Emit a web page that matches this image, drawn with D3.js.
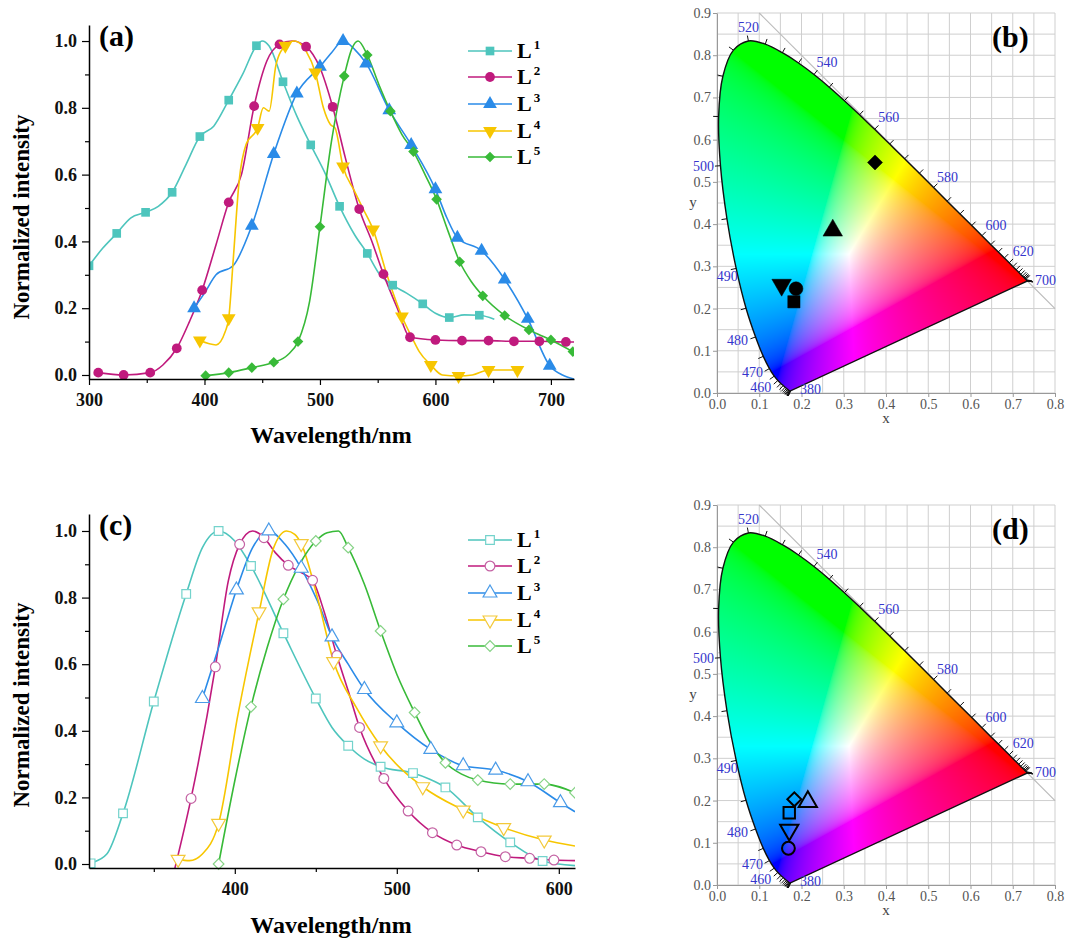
<!DOCTYPE html>
<html>
<head>
<meta charset="utf-8">
<script src="https://cdn.jsdelivr.net/npm/d3@7"></script>
<style>
body { margin: 0; background: #fff; }
text { font-family: "Liberation Serif", "Times New Roman", serif; }
</style>
</head>
<body>
<script>
// ---- data: [wavelength, intensity, marker?] ----
var names = ["1", "2", "3", "4", "5"];
var colors = ["#4ec5bd", "#c01a7d", "#2a8be8", "#f7c600", "#38ba38"];
var openColors = ["#74d3cc", "#c463a4", "#4a9be8", "#f3c93a", "#86d386"];

var aL1 = [[300,0.327,1],[312,0.38,0],[324,0.424,1],[336,0.47,0],[349,0.487,1],[360,0.505,0],[372,0.547,1],[384,0.63,0],[396,0.714,1],[408,0.745,0],[421,0.823,1],[433,0.9,0],[445,0.986,1],[450,1.0,0],[456,0.985,0],[468,0.878,1],[480,0.775,0],[492,0.689,1],[505,0.6,0],[517,0.505,1],[530,0.42,0],[541,0.364,1],[552,0.3,0],[563,0.269,1],[575,0.245,0],[589,0.213,1],[600,0.185,0],[612,0.172,1],[625,0.18,0],[638,0.179,1],[651,0.167,0]];
var aL2 = [[308,0.007,1],[330,0.0,1],[353,0.007,1],[364,0.03,0],[376,0.08,1],[387,0.16,0],[398,0.254,1],[410,0.39,0],[421,0.517,1],[432,0.6,0],[443,0.805,1],[454,0.94,0],[465,0.99,1],[476,1.0,0],[488,0.983,1],[500,0.92,0],[511,0.803,1],[522,0.65,0],[534,0.497,1],[545,0.4,0],[555,0.302,1],[567,0.2,0],[578,0.113,1],[600,0.105,1],[623,0.103,1],[646,0.103,1],[668,0.101,1],[690,0.101,1],[713,0.099,1],[720,0.099,0]];
var aL3 = [[391,0.2,1],[400,0.245,0],[410,0.3,0],[425,0.328,0],[441,0.447,1],[460,0.662,1],[480,0.843,1],[500,0.923,1],[510,0.965,0],[520,1.0,1],[530,0.975,0],[540,0.933,1],[560,0.793,1],[579,0.689,1],[600,0.556,1],[610,0.47,0],[619,0.411,1],[640,0.372,1],[660,0.286,1],[680,0.168,1],[699,0.028,1],[710,0.0,0],[720,-0.012,0]];
var aL4 = [[396,0.103,1],[410,0.09,0],[418,0.13,0],[421,0.17,1],[425,0.35,0],[430,0.58,0],[436,0.69,0],[446,0.74,1],[451,0.8,0],[456,0.79,0],[462,0.93,0],[470,0.986,1],[478,1.0,0],[488,0.97,0],[496,0.906,1],[503,0.8,0],[509,0.75,0],[513,0.74,0],[520,0.624,1],[530,0.55,0],[537,0.5,0],[546,0.436,1],[558,0.3,0],[571,0.175,1],[580,0.11,0],[586,0.07,0],[596,0.03,1],[606,0.0,0],[620,-0.003,1],[632,0.0,0],[646,0.015,1],[660,0.015,0],[671,0.015,1]];
var aL5 = [[401,-0.002,1],[421,0.007,1],[441,0.022,1],[460,0.038,1],[472,0.06,0],[481,0.1,1],[491,0.22,0],[500,0.444,1],[510,0.7,0],[521,0.895,1],[528,0.98,0],[533,1.0,0],[541,0.958,1],[551,0.87,0],[561,0.79,1],[571,0.72,0],[581,0.669,1],[591,0.6,0],[601,0.526,1],[611,0.43,0],[621,0.339,1],[631,0.28,0],[641,0.237,1],[660,0.178,1],[681,0.135,1],[700,0.105,1],[719,0.07,1]];

var cL1 = [[310,0.0,0],[311,0.002,1],[321,0.03,0],[331,0.152,1],[350,0.488,1],[370,0.811,1],[380,0.95,0],[390,1.0,1],[400,0.97,0],[410,0.895,1],[430,0.693,1],[450,0.497,1],[460,0.41,0],[470,0.355,1],[480,0.315,0],[490,0.292,1],[510,0.273,1],[520,0.255,0],[530,0.23,1],[550,0.14,1],[570,0.065,1],[590,0.009,1],[610,-0.005,0]];
var cL2 = [[363,-0.013,0],[373,0.197,1],[388,0.592,1],[396,0.85,0],[403,0.96,1],[411,1.0,0],[418,0.98,1],[425,0.935,0],[433,0.897,1],[441,0.875,0],[448,0.852,1],[455,0.76,0],[463,0.626,1],[470,0.52,0],[477,0.41,1],[492,0.257,1],[507,0.159,1],[522,0.094,1],[537,0.057,1],[552,0.037,1],[567,0.022,1],[582,0.017,1],[597,0.012,1],[610,0.01,0]];
var cL3 = [[380,0.497,1],[390,0.65,0],[401,0.823,1],[411,0.95,0],[421,1.0,1],[431,0.96,0],[441,0.888,1],[451,0.79,0],[460,0.682,1],[470,0.6,0],[480,0.524,1],[500,0.424,1],[521,0.344,1],[541,0.295,1],[561,0.282,1],[581,0.247,1],[601,0.184,1],[610,0.157,0]];
var cL4 = [[365,0.014,1],[372,0.01,0],[380,0.03,0],[390,0.122,1],[402,0.45,0],[415,0.757,1],[424,0.95,0],[432,1.0,0],[437,0.99,0],[441,0.962,1],[451,0.8,0],[461,0.608,1],[475,0.47,0],[490,0.355,1],[516,0.232,1],[541,0.162,1],[566,0.109,1],[591,0.072,1],[610,0.054,0]];
var cL5 = [[390,0.0,1],[400,0.25,0],[410,0.472,1],[420,0.65,0],[430,0.795,1],[440,0.9,0],[450,0.97,1],[457,0.995,0],[464,1.0,0],[470,0.95,1],[480,0.84,0],[490,0.7,1],[500,0.57,0],[511,0.455,1],[520,0.37,0],[530,0.304,1],[540,0.27,0],[550,0.252,1],[570,0.24,1],[591,0.24,1],[610,0.214,1]];

// CIE coordinates of the samples
var bX = [0.182, 0.187, 0.274, 0.153, 0.374];
var bY = [0.216, 0.247, 0.385, 0.256, 0.546];
var dX = [0.171, 0.169, 0.215, 0.171, 0.183];
var dY = [0.171, 0.087, 0.197, 0.130, 0.203];

// CIE 1931 spectral locus, 380-700 nm every 5 nm
var locusNm = d3.range(380, 701, 5);
var locusX = [0.1741,0.1740,0.1738,0.1736,0.1733,0.1730,0.1726,0.1721,0.1714,0.1703,0.1689,0.1669,0.1644,0.1611,0.1566,0.1510,0.1440,0.1355,0.1241,0.1096,0.0913,0.0687,0.0454,0.0235,0.0082,0.0039,0.0139,0.0389,0.0743,0.1142,0.1547,0.1929,0.2296,0.2658,0.3016,0.3373,0.3731,0.4087,0.4441,0.4788,0.5125,0.5448,0.5752,0.6029,0.6270,0.6482,0.6658,0.6801,0.6915,0.7006,0.7079,0.7140,0.7190,0.7230,0.7260,0.7283,0.7300,0.7311,0.7320,0.7327,0.7334,0.7340,0.7344,0.7346,0.7347];
var locusY = [0.0050,0.0050,0.0049,0.0049,0.0048,0.0048,0.0048,0.0048,0.0051,0.0058,0.0069,0.0086,0.0109,0.0138,0.0177,0.0227,0.0297,0.0399,0.0578,0.0868,0.1327,0.2007,0.2950,0.4127,0.5384,0.6548,0.7502,0.8120,0.8338,0.8262,0.8059,0.7816,0.7543,0.7243,0.6923,0.6589,0.6245,0.5896,0.5547,0.5202,0.4866,0.4544,0.4242,0.3965,0.3725,0.3514,0.3340,0.3197,0.3083,0.2993,0.2920,0.2859,0.2809,0.2770,0.2740,0.2717,0.2700,0.2689,0.2680,0.2673,0.2666,0.2660,0.2656,0.2654,0.2653];
var locusLabels = [380, 460, 470, 480, 490, 500, 520, 540, 560, 580, 600, 620, 700];

var svg = d3.select("body").append("svg")
    .attr("width", 1068)
    .attr("height", 938);

// marker shapes: square, circle, up, down, diamond
function symbolFor(k, size) {
    var types = [d3.symbolSquare, d3.symbolCircle, d3.symbolTriangle, d3.symbolTriangle, d3.symbolSquare];
    var scale = [1, 1, 1.1, 1.1, 0.75];
    return {
        d: d3.symbol().type(types[k]).size(size * scale[k])(),
        rot: k == 3 ? 180 : (k == 4 ? 45 : 0)
    };
}

function spectrum(p) {
    var x = d3.scaleLinear().domain(p.xd).range([89, p.right]);
    var y = d3.scaleLinear().domain(p.yd).range([p.bottom, p.top]);
    var g = svg.append("g");

    g.append("clipPath").attr("id", p.id)
        .append("rect")
        .attr("x", 89).attr("y", p.top - 10)
        .attr("width", p.right - 89).attr("height", p.bottom - p.top + 20);

    var line = d3.line()
        .x(function(d) { return x(d[0]); })
        .y(function(d) { return y(d[1]); })
        .curve(d3.curveMonotoneX);

    var plot = g.append("g").attr("clip-path", "url(#" + p.id + ")");
    p.series.forEach(function(s, k) {
        plot.append("path")
            .attr("d", line(s))
            .attr("fill", "none")
            .attr("stroke", colors[k])
            .attr("stroke-width", 1.6);
    });
    p.series.forEach(function(s, k) {
        var sym = symbolFor(k, 75);
        plot.selectAll(".m" + k)
            .data(s.filter(function(d) { return d[2]; }))
            .enter().append("path")
            .attr("d", sym.d)
            .attr("transform", function(d) { return "translate(" + x(d[0]) + "," + y(d[1]) + ") rotate(" + sym.rot + ")"; })
            .attr("fill", p.open ? "#fff" : colors[k])
            .attr("stroke", p.open ? openColors[k] : "none")
            .attr("stroke-width", 1.2);
    });

    // axes
    g.append("g").attr("transform", "translate(89,0)")
        .call(d3.axisLeft(y).tickValues([0, 0.2, 0.4, 0.6, 0.8, 1.0]).tickFormat(d3.format(".1f"))
            .tickSize(7).tickSizeOuter(0).tickPadding(5));
    g.append("g").attr("transform", "translate(89,0)")
        .call(d3.axisLeft(y).tickValues([0.1, 0.3, 0.5, 0.7, 0.9]).tickFormat("").tickSize(4).tickSizeOuter(0))
        .select(".domain").remove();
    g.append("g").attr("transform", "translate(0," + p.bottom + ")")
        .call(d3.axisBottom(x).tickValues(p.xMajor).tickFormat(d3.format("d"))
            .tickSize(6).tickSizeOuter(0).tickPadding(8));
    g.append("g").attr("transform", "translate(0," + p.bottom + ")")
        .call(d3.axisBottom(x).tickValues(p.xMinor).tickFormat("").tickSize(4).tickSizeOuter(0))
        .select(".domain").remove();
    g.selectAll(".domain").attr("stroke-width", 1.5);
    g.selectAll(".tick line").attr("stroke-width", 1.2);
    g.selectAll(".tick text")
        .style("font-family", "Liberation Serif")
        .style("font-weight", "bold")
        .style("font-size", "18px")
        .attr("fill", "#111");

    // titles
    g.append("text")
        .attr("transform", "translate(29," + p.ylabY + ") rotate(-90)")
        .attr("text-anchor", "middle")
        .style("font-size", "23px").style("font-weight", "bold")
        .text("Normalized intensity");
    g.append("text")
        .attr("x", 331).attr("y", p.xlabY)
        .attr("text-anchor", "middle")
        .style("font-size", "24px").style("font-weight", "bold")
        .text("Wavelength/nm");
    g.append("text")
        .attr("x", 99).attr("y", p.top + 21)
        .style("font-size", "30px").style("font-weight", "bold")
        .text(p.label);

    // legend
    names.forEach(function(n, k) {
        var ly = p.legendY[k];
        g.append("line").attr("x1", 468).attr("x2", 512).attr("y1", ly).attr("y2", ly)
            .attr("stroke", colors[k]).attr("stroke-width", 1.6);
        var sym = symbolFor(k, 75);
        g.append("path").attr("d", sym.d)
            .attr("transform", "translate(490," + ly + ") rotate(" + sym.rot + ")")
            .attr("fill", p.open ? "#fff" : colors[k])
            .attr("stroke", p.open ? openColors[k] : "none")
            .attr("stroke-width", 1.2);
        var t = g.append("text").attr("x", 517).attr("y", ly + 7)
            .style("font-size", "22px").style("font-weight", "bold");
        t.append("tspan").text("L");
        t.append("tspan").attr("dx", 2).attr("dy", -9).style("font-size", "13px").text(n);
    });
}

// colour fill of the chromaticity diagram
var fillW = 338, fillH = 380;
function cieImage() {
    var canvas = document.createElement("canvas");
    canvas.width = fillW; canvas.height = fillH;
    var ctx = canvas.getContext("2d");
    var img = ctx.createImageData(fillW, fillH);
    function gam(c) { return c <= 0.0031308 ? 12.92 * c : 1.055 * Math.pow(c, 1 / 2.4) - 0.055; }
    for (var j = 0; j < fillH; j++) {
        for (var i = 0; i < fillW; i++) {
            var cx = (i + 0.5) / fillW * 0.8, cy = (fillH - j - 0.5) / fillH * 0.9;
            if (cy < 0.002) cy = 0.002;
            var X = cx / cy, Z = (1 - cx - cy) / cy;
            var r = 3.2406 * X - 1.5372 - 0.4986 * Z;
            var gg = -0.9689 * X + 1.8758 + 0.0415 * Z;
            var b = 0.0557 * X - 0.2040 + 1.0570 * Z;
            r = Math.max(r, 0); gg = Math.max(gg, 0); b = Math.max(b, 0);
            var m = Math.max(r, gg, b) || 1;
            var o = (j * fillW + i) * 4;
            img.data[o] = 255 * gam(r / m);
            img.data[o + 1] = 255 * gam(gg / m);
            img.data[o + 2] = 255 * gam(b / m);
            img.data[o + 3] = 255;
        }
    }
    ctx.putImageData(img, 0, 0);
    return canvas.toDataURL();
}
var cieHref = cieImage();

var labelOff = {380: [20, -1], 460: [-17, 7], 470: [-17, 4], 480: [-18, 4], 490: [-9, 8], 500: [-17, 1],
    520: [0, -13], 540: [13, -12], 560: [14, -12], 580: [14, -10], 600: [14, -10], 620: [14, -11], 700: [18, 0]};

function cie(p) {
    var sx = d3.scaleLinear().domain([0, 0.8]).range([717, 1055]);
    var sy = d3.scaleLinear().domain([0, 0.9]).range([p.y0, p.y0 - 380]);
    var g = svg.append("g");

    // grid
    d3.range(0, 0.801, 0.05).forEach(function(v) {
        g.append("line").attr("x1", sx(v)).attr("x2", sx(v)).attr("y1", sy(0)).attr("y2", sy(0.9))
            .attr("stroke", "#cfcfcf").attr("stroke-width", 1);
    });
    d3.range(0, 0.901, 0.05).forEach(function(v) {
        g.append("line").attr("x1", sx(0)).attr("x2", sx(0.8)).attr("y1", sy(v)).attr("y2", sy(v))
            .attr("stroke", "#cfcfcf").attr("stroke-width", 1);
    });

    g.append("g").attr("transform", "translate(0," + sy(0) + ")")
        .call(d3.axisBottom(sx).tickValues(d3.range(0, 0.801, 0.1)).tickFormat(d3.format(".1f")).tickSize(4).tickSizeOuter(0).tickPadding(2));
    g.append("g").attr("transform", "translate(" + sx(0) + ",0)")
        .call(d3.axisLeft(sy).tickValues(d3.range(0, 0.901, 0.1)).tickFormat(d3.format(".1f")).tickSize(4).tickSizeOuter(0).tickPadding(2));
    g.selectAll(".domain").attr("stroke", "#999");
    g.selectAll(".tick line").attr("stroke", "#999");
    g.selectAll(".tick text").attr("fill", "#555")
        .style("font-family", "Liberation Serif").style("font-size", "14px");

    // x + y = 1
    g.append("line").attr("x1", sx(0.1)).attr("y1", sy(0.9)).attr("x2", sx(0.8)).attr("y2", sy(0.2))
        .attr("stroke", "#bbb").attr("stroke-width", 1.2);

    var pts = locusNm.map(function(n, i) { return [sx(locusX[i]), sy(locusY[i])]; });
    var d = d3.line().curve(d3.curveCatmullRom)(pts) + "Z";
    g.append("clipPath").attr("id", p.id).append("path").attr("d", d);
    g.append("image")
        .attr("href", cieHref)
        .attr("x", sx(0)).attr("y", sy(0.9))
        .attr("width", fillW).attr("height", fillH)
        .attr("preserveAspectRatio", "none")
        .attr("clip-path", "url(#" + p.id + ")");
    g.append("path").attr("d", d).attr("fill", "none").attr("stroke", "#111").attr("stroke-width", 1.4);

    // wavelength ticks and labels
    var wp = [sx(0.3333), sy(0.3333)];
    pts.forEach(function(pt, i) {
        var a = pts[Math.max(i - 1, 0)], b = pts[Math.min(i + 1, pts.length - 1)];
        var tx = b[0] - a[0], ty = b[1] - a[1], len = Math.hypot(tx, ty);
        var nx, ny;
        var rx = pt[0] - wp[0], ry = pt[1] - wp[1], rl = Math.hypot(rx, ry);
        if (len < 1) { nx = rx / rl; ny = ry / rl; }
        else {
            nx = ty / len; ny = -tx / len;
            if (nx * rx + ny * ry < 0) { nx = -nx; ny = -ny; }
        }
        g.append("line").attr("x1", pt[0]).attr("y1", pt[1])
            .attr("x2", pt[0] + nx * 5.5).attr("y2", pt[1] + ny * 5.5)
            .attr("stroke", "#111").attr("stroke-width", 1);
        var n = locusNm[i];
        if (locusLabels.indexOf(n) >= 0) {
            g.append("text")
                .attr("x", pt[0] + labelOff[n][0]).attr("y", pt[1] + labelOff[n][1])
                .attr("text-anchor", "middle").attr("dominant-baseline", "central")
                .attr("fill", "#3535cc").style("font-size", "14px")
                .text(n);
        }
    });

    // samples
    p.xs.forEach(function(v, k) {
        var sym = symbolFor(k, p.open ? 130 : 150);
        g.append("path").attr("d", sym.d)
            .attr("transform", "translate(" + sx(v) + "," + sy(p.ys[k]) + ") rotate(" + sym.rot + ")")
            .attr("fill", p.open ? "none" : "#000")
            .attr("stroke", "#000")
            .attr("stroke-width", p.open ? 2 : 0.5);
    });

    g.append("text").attr("x", sx(0.4)).attr("y", sy(0) + 30)
        .attr("text-anchor", "middle").attr("fill", "#444").style("font-size", "15px").text("x");
    g.append("text").attr("x", 693).attr("y", sy(0.45) + 4)
        .attr("text-anchor", "middle").attr("fill", "#444").style("font-size", "15px").text("y");
    g.append("text").attr("x", 992).attr("y", p.y0 - 346)
        .style("font-size", "30px").style("font-weight", "bold").text(p.label);
}

spectrum({id: "ca", top: 25, bottom: 379, right: 574, xd: [300, 720], yd: [-0.012, 1.048],
    series: [aL1, aL2, aL3, aL4, aL5], open: false,
    xMajor: [300, 400, 500, 600, 700], xMinor: [350, 450, 550, 650],
    label: "(a)", legendY: [51, 77, 104, 131, 157], xlabY: 443, ylabY: 217});
spectrum({id: "cc", top: 514, bottom: 868, right: 575, xd: [310, 610], yd: [-0.012, 1.051],
    series: [cL1, cL2, cL3, cL4, cL5], open: true,
    xMajor: [400, 500, 600], xMinor: [350, 450, 550],
    label: "(c)", legendY: [540, 566, 593, 620, 646], xlabY: 933, ylabY: 705});
cie({id: "cb", y0: 393, xs: bX, ys: bY, open: false, label: "(b)"});
cie({id: "cd", y0: 885, xs: dX, ys: dY, open: true, label: "(d)"});
</script>
</body>
</html>
